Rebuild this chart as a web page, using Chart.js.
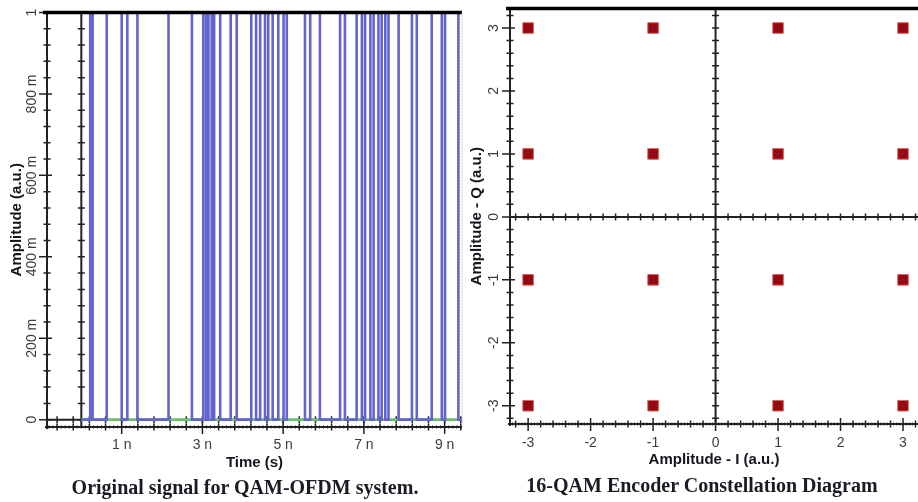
<!DOCTYPE html>
<html>
<head>
<meta charset="utf-8">
<script src="https://cdn.jsdelivr.net/npm/chart.js@4.4.1/dist/chart.umd.min.js"></script>
<style>
  html, body { margin: 0; padding: 0; background: #fff; width: 918px; height: 502px; overflow: hidden; }
  canvas { position: absolute; top: 0; }
  #sig { left: 0; }
  #qam { left: 462px; }
  .cap { position: absolute; font: bold 20px "Liberation Serif", "Times New Roman", serif; line-height: 20px; color: #1b1b24; white-space: nowrap; transform: translateX(-50%); }
</style>
</head>
<body>
<canvas id="sig" width="466" height="480"></canvas>
<canvas id="qam" width="456" height="480"></canvas>
<div class="cap" style="left:245px; top:477px">Original signal for QAM-OFDM system.</div>
<div class="cap" style="left:702px; top:475px">16-QAM Encoder Constellation Diagram</div>
<script>
// bit stream edges in ns, level flips at each one (starts low at t = 0)
const edgeTimes = [0.22, 0.28, 0.63, 1.00, 1.14, 1.39, 2.16, 2.74, 3.02, 3.09, 3.15, 3.23,
  3.29, 3.44, 3.70, 3.85, 4.21, 4.33, 4.43, 4.55, 4.63, 4.74, 4.88, 5.01, 5.09, 5.54,
  5.67, 5.91, 6.41, 6.53, 6.82, 6.95, 7.03, 7.16, 7.24, 7.36, 7.44, 7.53, 7.61, 7.86,
  8.19, 8.31, 8.68, 8.93, 9.01, 9.34];
const startLevel = 0;
const endTime = 9.43;
const timeTicks = [1, 3, 5, 7, 9];
const ampTicks = [0, 0.2, 0.4, 0.6, 0.8, 1];

// 16-QAM constellation
const iLevels = [-3, -1, 1, 3];
const qLevels = [-3, -1, 1, 3];
const iqTicks = [-3, -2, -1, 0, 1, 2, 3];

const sans = 'Liberation Sans, Arial, sans-serif';
const tickFont = { family: sans, size: 14 };
const titleFont = { family: sans, size: 15, weight: 'bold' };
const tickColor = '#3c3c3c';
const titleColor = '#15151f';

function steps(min, max, step, origin, fn) {
  for (let k = Math.ceil((min - origin) / step - 1e-9); origin + k * step <= max + 1e-9; k++) {
    fn(origin + k * step);
  }
}

// scope style axes: zero axes + frame with cross ticks
const scopeFrame = {
  id: 'scopeFrame',
  beforeDatasetsDraw(chart, args, o) {
    const { ctx, chartArea: a, scales: { x, y } } = chart;
    const x0 = x.getPixelForValue(0), y0 = y.getPixelForValue(0);
    ctx.save();
    ctx.strokeStyle = '#222';
    ctx.lineWidth = 2;
    ctx.beginPath();
    ctx.moveTo(x0, a.top); ctx.lineTo(x0, a.bottom);
    ctx.moveTo(a.left, y0); ctx.lineTo(a.right, y0);
    ctx.stroke();
    ctx.lineWidth = 1.5;
    ctx.beginPath();
    steps(y.min, y.max, o.yStep, 0, v => {
      const p = y.getPixelForValue(v);
      ctx.moveTo(x0 - 3.5, p); ctx.lineTo(x0 + 3.5, p);
    });
    steps(x.min, x.max, o.xStep, o.xOrigin, v => {
      const p = x.getPixelForValue(v);
      ctx.moveTo(p, y0 - 3.5); ctx.lineTo(p, y0 + 3.5);
    });
    ctx.stroke();
    ctx.restore();
  },
  afterDatasetsDraw(chart, args, o) {
    const { ctx, chartArea: a, scales: { x, y } } = chart;
    ctx.save();
    ctx.strokeStyle = '#222';
    ctx.lineWidth = 2;
    ctx.beginPath();
    ctx.moveTo(a.left, a.top); ctx.lineTo(a.left, a.bottom + 2);
    ctx.moveTo(a.left - 2, a.bottom); ctx.lineTo(a.right, a.bottom);
    ctx.stroke();

    ctx.lineWidth = 1.5;
    ctx.beginPath();
    steps(y.min, y.max, o.yStep, 0, v => {
      const p = y.getPixelForValue(v);
      const major = o.yMajor.some(m => Math.abs(m - v) < 1e-6);
      ctx.moveTo(a.left - (major ? 8 : 3.5), p); ctx.lineTo(a.left + (major ? 5 : 3.5), p);
    });
    steps(x.min, x.max, o.xStep, o.xOrigin, v => {
      const p = x.getPixelForValue(v);
      const major = o.xMajor.some(m => Math.abs(m - v) < 1e-6);
      ctx.moveTo(p, a.bottom - (major ? 6 : 3.5)); ctx.lineTo(p, a.bottom + (major ? 7 : 3.5));
    });
    ctx.stroke();
    ctx.lineWidth = 1;
    ctx.beginPath();
    steps(x.min, x.max, o.xTiny, o.xOrigin, v => {
      const p = x.getPixelForValue(v);
      ctx.moveTo(p, a.bottom - 1.5); ctx.lineTo(p, a.bottom + 1.5);
    });
    ctx.stroke();

    ctx.strokeStyle = '#000';
    ctx.lineWidth = 3.5;
    ctx.beginPath();
    ctx.moveTo(a.left - 4, a.top); ctx.lineTo(a.right, a.top);
    ctx.stroke();

    if (o.rightDotted) {
      ctx.strokeStyle = '#9a9a9a';
      ctx.lineWidth = 1;
      ctx.setLineDash([1, 2]);
      ctx.beginPath();
      ctx.moveTo(a.right, a.top); ctx.lineTo(a.right, a.bottom);
      ctx.stroke();
    }
    ctx.restore();
  }
};

function setTicks(list) {
  return s => { s.ticks = list.map(v => ({ value: v })); };
}

// fixed axis box, no extra room for overhanging labels
function fixSize(w, h) {
  return s => {
    if (w) s.width = w;
    if (h) s.height = h;
    s.paddingTop = s.paddingBottom = s.paddingLeft = s.paddingRight = 0;
  };
}

// ---- original signal ----
const sigPoints = [{ x: 0, y: startLevel }];
let level = startLevel;
edgeTimes.forEach(t => {
  level = 1 - level;
  sigPoints.push({ x: t, y: level });
});
sigPoints.push({ x: endTime, y: level });

new Chart(document.getElementById('sig'), {
  type: 'line',
  data: {
    datasets: [
      {
        data: sigPoints,
        stepped: true,
        borderColor: '#6464cf',
        borderWidth: 2.6,
        pointRadius: 0
      },
      {
        data: [{ x: 0, y: 0 }, { x: endTime, y: 0 }],
        borderColor: '#66c466',
        borderWidth: 2.5,
        pointRadius: 0
      }
    ]
  },
  options: {
    responsive: false,
    animation: false,
    layout: { autoPadding: false, padding: { top: 12.5, right: 4, left: 0, bottom: 0 } },
    plugins: {
      legend: { display: false },
      tooltip: { enabled: false },
      scopeFrame: { yStep: 0.04, yMajor: ampTicks, xStep: 0.4, xTiny: 0.1, xOrigin: 1, xMajor: timeTicks, rightDotted: true }
    },
    scales: {
      x: {
        type: 'linear',
        min: -0.85,
        max: endTime,
        grid: { display: false, drawTicks: false },
        border: { display: false },
        afterBuildTicks: setTicks(timeTicks),
        afterFit: fixSize(0, 53),
        ticks: { callback: v => v + ' n', padding: 10, maxRotation: 0, autoSkip: false, font: tickFont, color: tickColor },
        title: { display: true, text: 'Time (s)', font: titleFont, color: titleColor, padding: { top: 0, bottom: 8 } }
      },
      y: {
        min: -0.018,
        max: 1,
        grid: { display: false, drawTicks: false },
        border: { display: false },
        afterBuildTicks: setTicks(ampTicks),
        afterFit: fixSize(47, 0),
        ticks: {
          callback: v => (v === 0 ? '0' : v === 1 ? '1' : Math.round(v * 1000) + ' m'),
          minRotation: 90, maxRotation: 90, crossAlign: 'center', padding: -5,
          font: tickFont, color: tickColor
        },
        title: { display: true, text: 'Amplitude (a.u.)', font: titleFont, color: titleColor, padding: { top: 8, bottom: 0 } }
      }
    }
  },
  plugins: [scopeFrame]
});

// ---- 16-QAM constellation ----
const symbols = [];
qLevels.forEach(q => iLevels.forEach(i => symbols.push({ x: i, y: q })));

new Chart(document.getElementById('qam'), {
  type: 'scatter',
  data: {
    datasets: [
      {
        data: symbols,
        pointStyle: 'rect',
        pointRadius: 1.2,
        backgroundColor: '#3030c0',
        borderWidth: 0
      },
      {
        data: symbols,
        pointStyle: 'rect',
        pointRadius: 7.5,
        backgroundColor: '#9c0608',
        borderColor: '#cf6a6a',
        borderWidth: 1
      }
    ]
  },
  options: {
    responsive: false,
    animation: false,
    layout: { autoPadding: false, padding: { top: 8.5, right: 0, left: 0, bottom: 0 } },
    plugins: {
      legend: { display: false },
      tooltip: { enabled: false },
      scopeFrame: { yStep: 0.2, yMajor: iqTicks, xStep: 0.2, xTiny: 0.05, xOrigin: 0, xMajor: iqTicks, rightDotted: false }
    },
    scales: {
      x: {
        type: 'linear',
        min: -3.29,
        max: 3.24,
        grid: { display: false, drawTicks: false },
        border: { display: false },
        afterBuildTicks: setTicks(iqTicks),
        afterFit: fixSize(0, 56),
        ticks: { padding: 11, maxRotation: 0, autoSkip: false, font: tickFont, color: tickColor },
        title: { display: true, text: 'Amplitude - I (a.u.)', font: titleFont, color: titleColor, padding: { top: 0, bottom: 11 } }
      },
      y: {
        min: -3.29,
        max: 3.31,
        grid: { display: false, drawTicks: false },
        border: { display: false },
        afterBuildTicks: setTicks(iqTicks),
        afterFit: fixSize(48, 0),
        ticks: { minRotation: 90, maxRotation: 90, crossAlign: 'center', padding: 10, font: tickFont, color: tickColor },
        title: { display: true, text: 'Amplitude - Q (a.u.)', font: titleFont, color: titleColor, padding: { top: 6, bottom: 0 } }
      }
    }
  },
  plugins: [scopeFrame]
});
</script>
</body>
</html>
